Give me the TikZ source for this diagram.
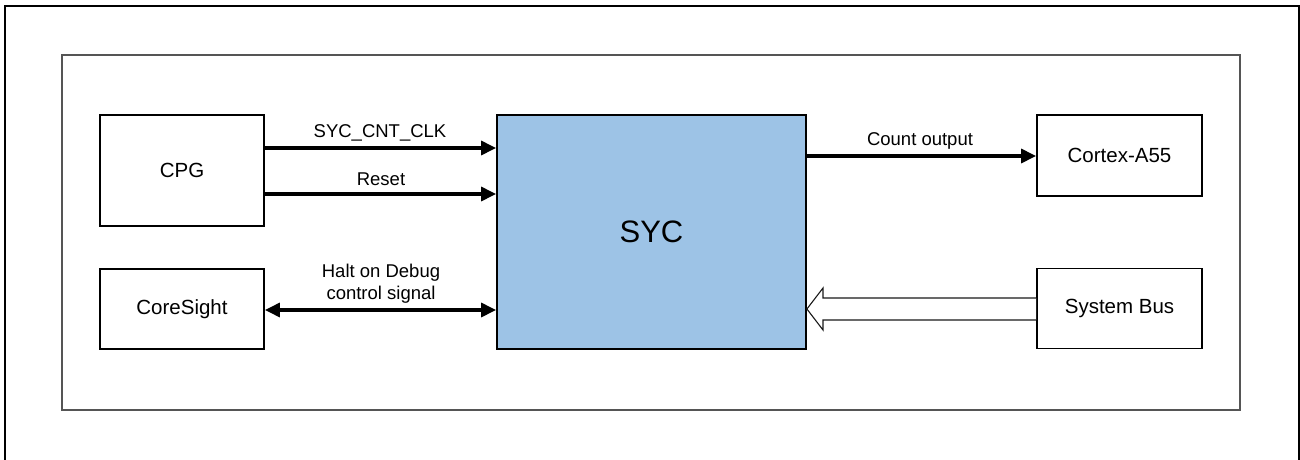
\documentclass[tikz,border=0pt]{standalone}
\usepackage{fontspec}
\setmainfont{Liberation Sans}
\usetikzlibrary{arrows.meta}
\definecolor{sycblue}{RGB}{157,195,230}
\definecolor{framegray}{RGB}{85,85,85}
\begin{document}
\begin{tikzpicture}[x=1pt,y=-1pt,
  blk/.style={draw=black,line width=1.8pt,fill=white,inner sep=0pt,
    font=\fontsize{20.5}{24}\selectfont},
  lbl/.style={inner sep=0pt,align=center,font=\fontsize{18.5}{22}\selectfont},
  arr/.style={line width=3.2pt,-{Triangle[length=15pt,width=14pt]}},
  darr/.style={line width=3.2pt,{Triangle[length=15pt,width=14pt]}-{Triangle[length=15pt,width=14pt]}}]
\useasboundingbox (0,0) rectangle (1300,460);
% outer frame
\coordinate (o1) at (5,470);
\coordinate (o2) at (5,6);
\coordinate (o3) at (1299,6);
\coordinate (o4) at (1299,470);
\draw[line width=2.5pt] (o1) -- (o2) -- (o3) -- (o4);
% inner frame
\coordinate (f1) at (62,55);
\coordinate (f2) at (1240,410);
\draw[framegray,line width=1.5pt] (f1) rectangle (f2);
% blocks
\node[blk,minimum width=164pt,minimum height=111pt] (CPG) at (182,170.5) {CPG};
\node[blk,minimum width=164pt,minimum height=80pt] (CS) at (182,309) {CoreSight};
\node[blk,fill=sycblue,minimum width=309pt,minimum height=234pt,
  font=\fontsize{31}{36}\selectfont] (SYC) at (651.5,232) {SYC};
\node[blk,minimum width=165pt,minimum height=81pt] (CA) at (1119.5,155.5) {Cortex-A55};
\node[blk,minimum width=165pt,minimum height=80pt] (SB) at (1119.5,308.5) {System Bus};
% arrows
\draw[arr] (CPG.east |- 0,148) -- (SYC.west |- 0,148);
\draw[arr] (CPG.east |- 0,194) -- (SYC.west |- 0,194);
\draw[darr] (CS.east |- 0,310) -- (SYC.west |- 0,310);
\draw[arr] (SYC.east |- 0,156) -- (CA.west |- 0,156);
% hollow bus arrow
\draw[line width=1.1pt,black!90,fill=white]
  (SB.west |- 0,298) -- (823,298) -- (823,288) -- (SYC.east |- 0,309)
  -- (823,330) -- (823,320) -- (SB.west |- 0,320);
% labels
\node[lbl] (l1) at (380,133) {SYC\_CNT\_CLK};
\node[lbl] (l2) at (381,179) {Reset};
\node[lbl] (l3) at (381,284) {Halt on Debug\\control signal};
\node[lbl] (l4) at (920,141) {Count output};
\end{tikzpicture}
\end{document}
